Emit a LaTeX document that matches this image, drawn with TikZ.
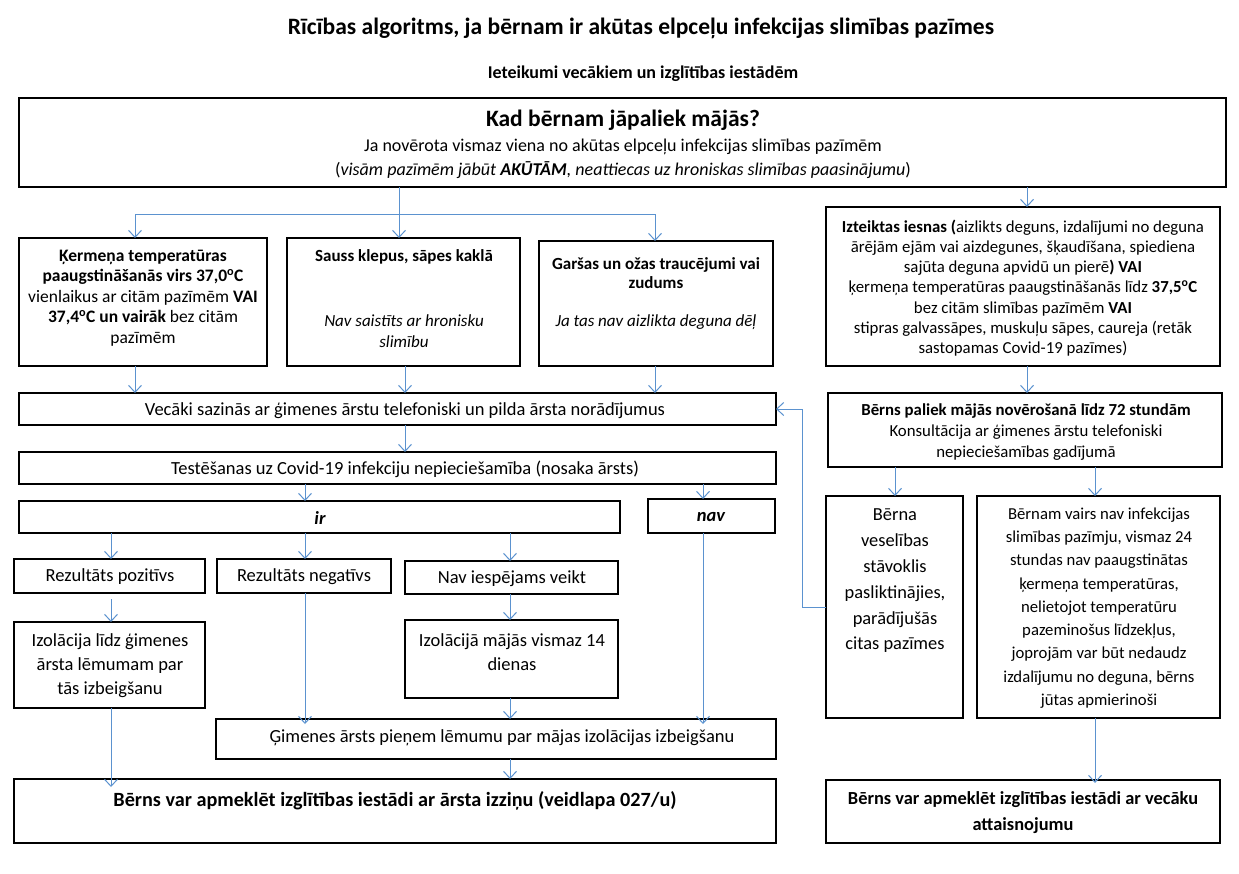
\documentclass[tikz,border=0pt]{standalone}
\usepackage{fontspec}
\setmainfont{Carlito}
\usetikzlibrary{arrows.meta,fit}
\definecolor{arrblue}{RGB}{91,146,207}
\begin{document}
\begin{tikzpicture}[x=1pt,y=-1pt,
  box/.style={draw=black, line width=1.3pt, inner sep=0pt, outer sep=0pt},
  txt/.style={align=center, inner sep=0pt, font=\fontsize{14}{20}\selectfont},
  arr/.style={draw=arrblue, line width=1pt, -{Straight Barb[length=7pt,width=13pt]}},
  ln/.style={draw=arrblue, line width=1pt}]
\useasboundingbox[fill=white] (0,0) rectangle (1239,873);

% x positions
\coordinate (x111) at (111,0);
\coordinate (x135) at (135,0);
\coordinate (x305) at (305,0);
\coordinate (x399) at (399,0);
\coordinate (x405) at (405,0);
\coordinate (x510) at (510,0);
\coordinate (x655) at (655,0);
\coordinate (x703) at (703,0);
\coordinate (x895) at (895,0);
\coordinate (x1027) at (1027,0);
\coordinate (x1095) at (1095,0);

% titles
\node[txt, font=\bfseries\fontsize{23.5}{28}\selectfont] (title) at (641,28) {Rīcības algoritms, ja bērnam ir akūtas elpceļu infekcijas slimības pazīmes};
\node[txt, font=\bfseries\fontsize{18}{22}\selectfont] (subtitle) at (643,74) {Ieteikumi vecākiem un izglītības iestādēm};

% top box
\node[box, fit={(19,98) (1226,187)}] (top) {};
\node[txt, font=\bfseries\fontsize{23.5}{28}\selectfont] (topH) at (623,120) {Kad bērnam jāpaliek mājās?};
\node[txt, font=\fontsize{18}{24}\selectfont] (topT) at (623,159) {Ja novērota vismaz viena no akūtas elpceļu infekcijas slimības pazīmēm\\
(\textit{visām pazīmēm jābūt \textbf{AKŪTĀM}, neattiecas uz hroniskas slimības paasinājumu})};

% symptom boxes
\node[box, fit={(19,238) (267,366)}] (A) {};
\node[txt, font=\fontsize{17.5}{20.6}\selectfont] (At) at (143,298) {\textbf{Ķermeņa temperatūras}\\
\textbf{paaugstināšanās virs 37,0\textsuperscript{o}C}\\
vienlaikus ar citām pazīmēm \textbf{VAI}\\
\textbf{37,4\textsuperscript{o}C un vairāk} bez citām\\
pazīmēm};

\node[box, fit={(287,238) (520,366)}] (B) {};
\node[txt, font=\bfseries\fontsize{17}{20}\selectfont] (Bh) at (404,257) {Sauss klepus, sāpes kaklā};
\node[txt, font=\itshape\fontsize{17}{21}\selectfont] (Bt) at (404,331) {Nav saistīts ar hronisku\\ slimību};

\node[box, fit={(539,241) (773,366)}] (C) {};
\node[txt, font=\bfseries\fontsize{17}{19.5}\selectfont] (Ch) at (656,273) {Garšas un ožas traucējumi vai\\ zudums};
\node[txt, font=\itshape\fontsize{17}{20}\selectfont] (Ct) at (656,322) {Ja tas nav aizlikta deguna dēļ};

\node[box, fit={(826,207) (1220,366)}] (D) {};
\node[txt, font=\fontsize{16.8}{20.2}\selectfont] (Dt) at (1023,288) {\textbf{Izteiktas iesnas (}aizlikts deguns, izdalījumi no deguna\\
ārējām ejām vai aizdegunes, šķaudīšana, spiediena\\
sajūta deguna apvidū un pierē\textbf{) VAI}\\
ķermeņa temperatūras paaugstināšanās līdz \textbf{37,5\textsuperscript{o}C}\\
bez citām slimības pazīmēm \textbf{VAI}\\
stipras galvassāpes, muskuļu sāpes, caureja (retāk\\
sastopamas Covid-19 pazīmes)};

% left column
\node[box, fit={(19,393) (776,425)}] (E) {};
\node[txt, font=\fontsize{18.5}{20}\selectfont] (Et) at (405,411) {Vecāki sazinās ar ģimenes ārstu telefoniski un pilda ārsta norādījumus};

\node[box, fit={(19,452) (776,484)}] (G) {};
\node[txt, font=\fontsize{18.5}{20}\selectfont] (Gt) at (405,469) {Testēšanas uz Covid-19 infekciju nepieciešamība (nosaka ārsts)};

\node[box, fit={(19,501) (620,533)}] (ir) {};
\node[txt, font=\bfseries\itshape\fontsize{18.5}{20}\selectfont] (irt) at (320,518) {ir};
\node[box, fit={(648,499) (775,533)}] (nav) {};
\node[txt, font=\bfseries\itshape\fontsize{18.5}{20}\selectfont] (navt) at (711,517) {nav};

\node[box, fit={(14,559) (205,593)}] (pos) {};
\node[txt, font=\fontsize{18.5}{20}\selectfont] (post) at (110,577) {Rezultāts pozitīvs};
\node[box, fit={(217,559) (391,593)}] (neg) {};
\node[txt, font=\fontsize{18.5}{20}\selectfont] (negt) at (304,577) {Rezultāts negatīvs};
\node[box, fit={(405,561) (618,594)}] (navi) {};
\node[txt, font=\fontsize{18.5}{20}\selectfont] (navit) at (512,579) {Nav iespējams veikt};

\node[box, fit={(14,622) (205,708)}] (izol) {};
\node[txt, font=\fontsize{18.5}{24}\selectfont] (izolt) at (110,666) {Izolācija līdz ģimenes\\ ārsta lēmumam par\\ tās izbeigšanu};
\node[box, fit={(405,620) (618,698)}] (izolm) {};
\node[txt, font=\fontsize{18.5}{24}\selectfont] (izolmt) at (512,652) {Izolācijā mājās vismaz 14\\ dienas};

\node[box, fit={(216,719) (776,759)}] (gim) {};
\node[txt, font=\fontsize{18.5}{20}\selectfont] (gimt) at (502,738) {Ģimenes ārsts pieņem lēmumu par mājas izolācijas izbeigšanu};

\node[box, fit={(14,779) (776,843)}] (botL) {};
\node[txt, font=\bfseries\fontsize{20.2}{24}\selectfont] (botLt) at (395,801) {Bērns var apmeklēt izglītības iestādi ar ārsta izziņu (veidlapa 027/u)};

% right column
\node[box, fit={(828,393) (1222,467)}] (F) {};
\node[txt, font=\fontsize{16.8}{21}\selectfont] (Ft) at (1026,432) {\textbf{Bērns paliek mājās novērošanā līdz 72 stundām}\\
Konsultācija ar ģimenes ārstu telefoniski\\
nepieciešamības gadījumā};

\node[box, fit={(826,496) (963,718)}] (H) {};
\node[txt, font=\fontsize{18.4}{25.8}\selectfont] (Ht) at (895,581) {Bērna\\ veselības\\ stāvoklis\\ pasliktinājies,\\ parādījušās\\ citas pazīmes};

\node[box, fit={(977,496) (1220,718)}] (I) {};
\node[txt, font=\fontsize{16.7}{23.3}\selectfont] (It) at (1099,608) {Bērnam vairs nav infekcijas\\
slimības pazīmju, vismaz 24\\
stundas nav paaugstinātas\\
ķermeņa temperatūras,\\
nelietojot temperatūru\\
pazeminošus līdzekļus,\\
joprojām var būt nedaudz\\
izdalījumu no deguna, bērns\\
jūtas apmierinoši};

\node[box, fit={(826,780) (1220,843)}] (botR) {};
\node[txt, font=\bfseries\fontsize{18.4}{26}\selectfont] (botRt) at (1023,813) {Bērns var apmeklēt izglītības iestādi ar vecāku\\ attaisnojumu};

% connectors
\coordinate (fork) at (399,214);
\draw[arr] (x399 |- top.south) -- (x399 |- B.north);
\draw[ln] (x135 |- fork) -- (x655 |- fork);
\draw[arr] (x135 |- fork) -- (x135 |- A.north);
\draw[arr] (x655 |- fork) -- (x655 |- C.north);
\draw[arr] (x1027 |- top.south) -- (x1027 |- D.north);

\draw[arr] (x135 |- A.south) -- (x135 |- E.north);
\draw[arr] (x405 |- B.south) -- (x405 |- E.north);
\draw[arr] (x655 |- C.south) -- (x655 |- E.north);
\draw[arr] (x405 |- E.south) -- (x405 |- G.north);
\draw[arr] (x305 |- G.south) -- (x305 |- ir.north);
\draw[arr] (x703 |- G.south) -- (x703 |- nav.north);
\draw[arr] (x111 |- ir.south) -- (x111 |- pos.north);
\draw[arr] (x305 |- ir.south) -- (x305 |- neg.north);
\draw[arr] (x510 |- ir.south) -- (x510 |- navi.north);
\draw[arr, shorten <=6pt] (x111 |- pos.south) -- (x111 |- izol.north);
\draw[arr] (x510 |- navi.south) -- (x510 |- izolm.north);
\draw[arr] (x111 |- izol.south) -- ([yshift=-8pt]x111 |- botL.north);
\draw[arr] (x305 |- neg.south) -- ([yshift=-5pt]x305 |- gim.north);
\draw[arr] (x510 |- izolm.south) -- (x510 |- gim.north);
\draw[arr] (x703 |- nav.south) -- ([yshift=-5pt]x703 |- gim.north);
\draw[arr] (x510 |- gim.south) -- (x510 |- botL.north);

\draw[arr] (x1027 |- D.south) -- (x1027 |- F.north);
\draw[arr] (x895 |- F.south) -- (x895 |- H.north);
\draw[arr] (x1095 |- F.south) -- (x1095 |- I.north);
\draw[arr] (x1095 |- I.south) -- ([yshift=-3pt]x1095 |- botR.north);
\draw[arr] (H.west) -- ++(-24,0) |- (E.east);
\end{tikzpicture}
\end{document}
